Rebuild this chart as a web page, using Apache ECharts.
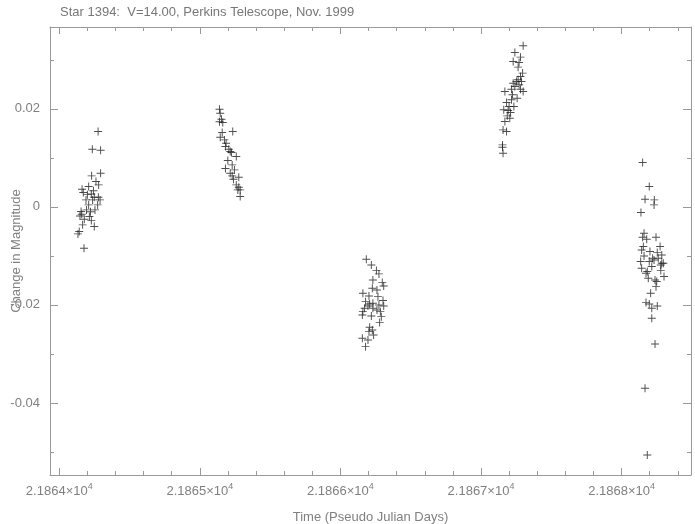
<!DOCTYPE html>
<html>
<head>
<meta charset="utf-8">
<script src="https://cdn.jsdelivr.net/npm/echarts@6/dist/echarts.min.js"></script>
<style>html,body{margin:0;padding:0;background:#fff}#c{width:695px;height:524px}</style>
</head>
<body>
<div id="c"></div>
<script>
// ---- data (time in pseudo Julian days, change in magnitude) ----
const night1Time = [21864.276,21864.235,21864.294,21864.230,21864.294,21864.261,21864.280,21864.162,21864.209,21864.171,21864.228,21864.249,21864.278,21864.190,21864.237,21864.290,21864.209,21864.273,21864.155,21864.194,21864.254,21864.147,21864.214,21864.178,21864.228,21864.166,21864.249,21864.142,21864.133,21864.176,21864.200,21864.222,21864.160,21864.243];
const night1Mag  = [0.01537,0.01178,0.01157,0.00633,0.00688,0.00516,0.00449,0.00361,0.00414,0.00292,0.00265,0.00198,0.00198,0.00143,0.00143,0.00143,0.00041,0.00041,-0.00096,-0.00061,-0.00061,-0.00184,-0.00198,-0.00251,-0.00280,-0.00367,-0.00402,-0.00504,-0.00551,-0.00843,0.00250,-0.00100,-0.00150,0.00330];
const night2Time = [21865.140,21865.145,21865.154,21865.163,21865.140,21865.234,21865.159,21865.145,21865.175,21865.187,21865.182,21865.206,21865.216,21865.225,21865.259,21865.199,21865.230,21865.182,21865.246,21865.216,21865.230,21865.277,21865.239,21865.259,21865.277,21865.287,21865.270,21865.287];
const night2Mag  = [0.01994,0.01912,0.01790,0.01720,0.01735,0.01537,0.01516,0.01422,0.01367,0.01300,0.01231,0.01178,0.01129,0.01108,0.01027,0.00945,0.00857,0.00782,0.00755,0.00688,0.00633,0.00606,0.00565,0.00449,0.00402,0.00347,0.00347,0.00210];
const night3Time = [21866.184,21866.220,21866.256,21866.274,21866.231,21866.298,21866.308,21866.227,21866.260,21866.160,21866.203,21866.267,21866.303,21866.179,21866.231,21866.208,21866.196,21866.274,21866.308,21866.172,21866.231,21866.260,21866.160,21866.284,21866.156,21866.220,21866.291,21866.279,21866.208,21866.227,21866.203,21866.236,21866.156,21866.196,21866.179];
const night3Mag  = [-0.01067,-0.01184,-0.01300,-0.01367,-0.01490,-0.01545,-0.01612,-0.01659,-0.01694,-0.01761,-0.01816,-0.01831,-0.01912,-0.01933,-0.01965,-0.01980,-0.02020,-0.02000,-0.02020,-0.02067,-0.02067,-0.02102,-0.02137,-0.02137,-0.02204,-0.02224,-0.02239,-0.02361,-0.02455,-0.02510,-0.02545,-0.02612,-0.02680,-0.02714,-0.02851];
const night4Time = [21867.300,21867.241,21867.281,21867.229,21867.271,21867.264,21867.296,21867.281,21867.264,21867.253,21867.288,21867.229,21867.271,21867.241,21867.217,21867.281,21867.300,21867.170,21867.224,21867.257,21867.217,21867.182,21867.200,21867.234,21867.162,21867.193,21867.210,21867.187,21867.205,21867.170,21867.157,21867.182,21867.153,21867.153,21867.157];
const night4Mag  = [0.03286,0.03149,0.03055,0.02965,0.02945,0.02851,0.02729,0.02659,0.02592,0.02557,0.02557,0.02524,0.02490,0.02455,0.02402,0.02402,0.02353,0.02353,0.02286,0.02218,0.02184,0.02129,0.02047,0.02047,0.01980,0.01965,0.01924,0.01857,0.01810,0.01741,0.01571,0.01537,0.01265,0.01218,0.01096];
const night5Time = [21868.150,21868.197,21868.167,21868.233,21868.231,21868.138,21868.160,21868.150,21868.179,21868.245,21868.155,21868.274,21868.143,21868.202,21868.254,21868.160,21868.286,21868.221,21868.261,21868.136,21868.197,21868.286,21868.297,21868.231,21868.279,21868.215,21868.143,21868.183,21868.174,21868.279,21868.302,21868.190,21868.238,21868.250,21868.245,21868.207,21868.174,21868.197,21868.254,21868.215,21868.215,21868.238,21868.167,21868.183];
const night5Mag  = [0.00904,0.00414,0.00157,0.00143,0.00041,-0.00116,-0.00537,-0.00618,-0.00659,-0.00618,-0.00810,-0.00810,-0.00878,-0.00912,-0.00933,-0.01000,-0.00980,-0.01047,-0.01047,-0.01116,-0.01116,-0.01149,-0.01149,-0.01082,-0.01184,-0.01218,-0.01251,-0.01320,-0.01353,-0.01300,-0.01422,-0.01455,-0.01490,-0.01524,-0.01627,-0.01761,-0.01953,-0.01980,-0.02020,-0.02067,-0.02271,-0.02796,-0.03700,-0.05061];

// ---- axes ----
const xRange = [21863.934, 21868.494];
const yRange = [-0.0547, 0.0367];
const xMajorTicks = [21864, 21865, 21866, 21867, 21868];
const xTickLabels = ['2.1864', '2.1865', '2.1866', '2.1867', '2.1868'];
const xMinorTicks = [21864.2,21864.4,21864.6,21864.8,21865.2,21865.4,21865.6,21865.8,21866.2,21866.4,21866.6,21866.8,21867.2,21867.4,21867.6,21867.8,21868.2,21868.4];
const yMajorTicks = [-0.04, -0.02, 0, 0.02];
const yTickLabels = ['-0.04', '-0.02', '0', '0.02'];
const yMinorTicks = [-0.05, -0.03, -0.01, 0.01, 0.03];

const titleText = 'Star 1394:  V=14.00, Perkins Telescope, Nov. 1999';
const xName = 'Time (Pseudo Julian Days)';
const yName = 'Change in Magnitude';

const allPoints = [];
[[night1Time,night1Mag],[night2Time,night2Mag],[night3Time,night3Mag],[night4Time,night4Mag],[night5Time,night5Mag]]
  .forEach(([t,m]) => t.forEach((v,i) => allPoints.push([v, m[i]])));

const FONT = '"Liberation Sans", "DejaVu Sans", sans-serif';
const AX = '#999';
const TXT = '#808080';

function nearestLabel(v, ticks, labels) {
  let best = 0;
  ticks.forEach((t, i) => { if (Math.abs(t - v) < Math.abs(ticks[best] - v)) best = i; });
  return labels[best];
}

function xAxisDef(pos, ticks, len, showLine, showLabel) {
  return {
    type: 'value', position: pos, min: xRange[0], max: xRange[1],
    splitLine: {show: false},
    axisLine: {show: showLine, onZero: false, lineStyle: {color: AX, width: 1}},
    axisTick: {show: true, inside: true, length: len, customValues: ticks, lineStyle: {color: AX, width: 1}},
    axisLabel: showLabel ? {
      show: true, customValues: ticks, margin: 7,
      formatter: v => '{a|' + nearestLabel(v, xMajorTicks, xTickLabels) + '×10}{b|4}',
      rich: {
        a: {fontFamily: FONT, fontSize: 13, color: TXT},
        b: {fontFamily: FONT, fontSize: 9, color: TXT, padding: [0, 0, 9, 0]}
      }
    } : {show: false},
    name: showLabel ? xName : '', nameLocation: 'middle', nameGap: 36, nameMoveOverlap: false,
    nameTextStyle: {fontFamily: FONT, fontSize: 13, color: TXT}
  };
}
function yAxisDef(pos, ticks, len, showLine, showLabel) {
  return {
    type: 'value', position: pos, min: yRange[0], max: yRange[1],
    splitLine: {show: false},
    axisLine: {show: showLine, onZero: false, lineStyle: {color: AX, width: 1}},
    axisTick: {show: true, inside: true, length: len, customValues: ticks, lineStyle: {color: AX, width: 1}},
    axisLabel: showLabel ? {
      show: true, customValues: ticks, margin: 10,
      fontFamily: FONT, fontSize: 13, color: TXT,
      formatter: v => nearestLabel(v, yMajorTicks, yTickLabels)
    } : {show: false},
    name: showLabel ? yName : '', nameLocation: 'middle', nameGap: 27, nameRotate: 90, nameMoveOverlap: false,
    nameTextStyle: {fontFamily: FONT, fontSize: 13, color: TXT}
  };
}

const chart = echarts.init(document.getElementById('c'), null, {renderer: 'canvas'});
chart.setOption({
  animation: false,
  backgroundColor: '#fff',
  title: {
    text: titleText, left: 55, top: 1,
    textStyle: {fontFamily: FONT, fontSize: 13, fontWeight: 'normal', color: '#777'}
  },
  grid: {left: 50, right: 4, top: 27, bottom: 49, containLabel: false, outerBoundsMode: 'none'},
  xAxis: [
    xAxisDef('bottom', xMajorTicks, 7, true, true),
    xAxisDef('bottom', xMinorTicks, 4, false, false),
    xAxisDef('top', xMajorTicks, 7, true, false),
    xAxisDef('top', xMinorTicks, 4, false, false)
  ],
  yAxis: [
    yAxisDef('left', yMajorTicks, 8, true, true),
    yAxisDef('left', yMinorTicks, 4, false, false),
    yAxisDef('right', yMajorTicks, 8, true, false),
    yAxisDef('right', yMinorTicks, 4, false, false)
  ],
  series: [{
    type: 'scatter', xAxisIndex: 0, yAxisIndex: 0,
    data: allPoints,
    symbol: 'path://M0,4.4H10V5.6H0ZM4.4,0H5.6V10H4.4Z',
    symbolSize: 8,
    itemStyle: {color: '#222', opacity: 0.8}
  }]
});
</script>
</body>
</html>
